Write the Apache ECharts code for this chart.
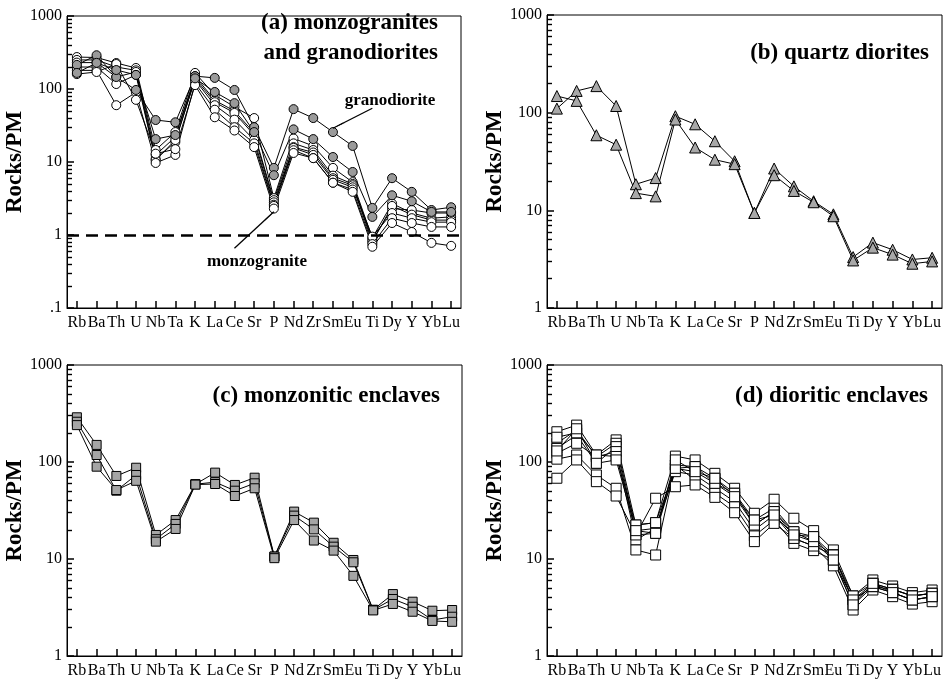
<!DOCTYPE html>
<html><head><meta charset="utf-8">
<script src="https://cdn.jsdelivr.net/npm/echarts@6/dist/echarts.min.js"></script>
<style>html,body{margin:0;padding:0;background:#fff}#c{width:946px;height:679px}</style>
</head><body><div id="c"></div>
<script>
// ---------- data ----------
const elements = ['Rb','Ba','Th','U','Nb','Ta','K','La','Ce','Sr','P','Nd','Zr','Sm','Eu','Ti','Dy','Y','Yb','Lu'];
const yTicksA = [0.1, 1, 10, 100, 1000];
const yTicksBCD = [1, 10, 100, 1000];

// (a) monzogranites (open circles) and granodiorites (grey circles)
const aMonzo1 = [274, 270, 227, 194, 14.6, 25.7, 166, 83, 57, 40, 3.2, 21, 16.6, 8.3, 5.3, 0.91, 2.7, 2.0, 1.7, 1.77];
const aMonzo2 = [250, 250, 200, 180, 12.5, 22, 150, 70, 50, 25, 3.0, 18, 14.6, 6.5, 5.0, 0.85, 2.3, 2.2, 2.0, 2.0];
const aMonzo3 = [230, 230, 146, 171, 11, 18.8, 140, 66, 47, 23.4, 2.8, 16, 13.5, 6.0, 4.8, 0.80, 2.5, 1.9, 1.6, 1.6];
const aMonzo4 = [200, 200, 117, 156, 10.6, 20, 133, 60, 38, 20, 2.6, 15.6, 12.5, 5.7, 4.5, 0.95, 2.0, 1.7, 1.5, 1.5];
const aMonzo5 = [180, 180, 60, 90, 9.7, 12.5, 120, 52, 30, 18, 2.5, 14.5, 11.3, 5.2, 4.2, 0.75, 1.7, 1.46, 1.29, 1.29];
const aMonzo6 = [160, 171, 220, 71, 13, 15, 113, 41, 27, 16, 2.3, 13.3, 11.3, 5.2, 3.9, 0.69, 1.46, 1.1, 0.78, 0.71];
const aGrano1 = [214, 290, 146, 97, 37.6, 35, 150, 142, 97, 30, 8.3, 53, 40, 25.7, 16.6, 2.35, 6.0, 3.9, 2.2, 2.4];
const aGrano2 = [166, 228, 182, 156, 20.6, 23.4, 140, 91, 64, 25.7, 6.6, 28, 20.6, 11.7, 7.3, 1.77, 3.5, 2.9, 2.07, 2.07];

// (b) quartz diorites
const bQd1 = [110, 167, 187, 117, 18.5, 21.4, 92, 76, 51, 31.8, 9.4, 26.8, 17.6, 12.4, 9.1, 3.32, 4.67, 3.95, 3.14, 3.27];
const bQd2 = [148, 132, 58.7, 47, 15, 13.9, 85, 44, 33, 29.7, 9.4, 22.9, 15.8, 12.1, 8.7, 3.07, 4.15, 3.52, 2.84, 3.0];

// (c) monzonitic enclaves
const cEnc1 = [289, 150, 71.8, 87.3, 17.7, 25.2, 59, 77.7, 58, 68.9, 10.6, 30.8, 23.7, 14.7, 9.77, 3.0, 4.35, 3.63, 2.93, 2.98];
const cEnc2 = [260, 118, 50.6, 73.5, 16, 23, 59, 62, 50.6, 60.3, 10.6, 28, 20.2, 13.4, 9.25, 2.98, 3.87, 3.22, 2.35, 2.54];
const cEnc3 = [240, 89.5, 51.4, 64, 15.1, 20.4, 58.5, 59.3, 44.6, 53.6, 10.2, 25.2, 15.5, 12.2, 6.7, 2.95, 3.44, 2.86, 2.3, 2.25];

// (d) dioritic enclaves
const dEnc1 = [205, 240, 118, 169, 22.4, 23.7, 115, 105, 76.4, 53.6, 29.6, 41.3, 26.3, 19.6, 12.4, 4.16, 6.08, 5.27, 4.5, 4.79];
const dEnc2 = [156, 214, 113, 156, 19.6, 20.7, 93, 89.6, 67.9, 47.6, 25.2, 33.4, 19.1, 17, 11, 3.78, 5.61, 4.87, 4.16, 4.43];
const dEnc3 = [138, 190, 97, 144, 17.7, 18.4, 86, 79.5, 60.3, 43.9, 22.4, 30.8, 17.7, 15.1, 9.77, 3.36, 5.19, 4.5, 3.78, 4.09];
const dEnc4 = [123, 156, 113, 128, 15.7, 20.7, 79.5, 73.5, 53.6, 39, 19.9, 28.4, 16.3, 13.6, 8.5, 2.98, 4.79, 4.09, 3.43, 3.63];
const dEnc5 = [107, 118, 73.5, 53.6, 12.4, 11, 93, 65.2, 47.6, 34.6, 17.3, 25.2, 14.5, 12.2, 9.77, 3.78, 5.19, 4.5, 3.78, 4.09];
const dEnc6 = [68, 105, 62.7, 44.6, 17.7, 42.3, 55.6, 58, 43.2, 30, 15.1, 23.3, 16.3, 13.6, 11, 4.16, 5.61, 4.87, 4.16, 4.43];
const dEnc7 = [180, 200, 118, 114, 22.4, 23.7, 86, 89.6, 60.3, 47.6, 22.4, 30.8, 19.1, 15.1, 11, 3.78, 5.19, 4.87, 4.16, 4.43];
const dEnc8 = [130, 220, 97, 105, 19.6, 18.4, 105, 79.5, 67.9, 43.9, 25.2, 28.4, 17.7, 17, 9.77, 3.36, 5.61, 4.5, 3.78, 4.09];

// annotation arrows (data coordinates: element index, Rocks/PM)
const granoArrow = [[14.74, 54.5], [13.31, 29]];
const monzoArrow = [[8.39, 0.657], [9.81, 2.08]];
const refLevel = 1;

// ---------- chart ----------
const SERIF = '"Liberation Serif", "Times New Roman", serif';
const panels = [
  {left: 67, top: 16, width: 394, height: 292, yMin: 0.1, yMax: 1000, yTicks: yTicksA},
  {left: 547, top: 15, width: 395, height: 293, yMin: 1, yMax: 1000, yTicks: yTicksBCD},
  {left: 67, top: 365, width: 395, height: 291, yMin: 1, yMax: 1000, yTicks: yTicksBCD},
  {left: 547, top: 365, width: 395, height: 291, yMin: 1, yMax: 1000, yTicks: yTicksBCD}
];

function minorLog(lo, hi) {
  const out = [];
  for (let d = Math.round(Math.log10(lo)); d < Math.round(Math.log10(hi)); d++)
    for (let k = 2; k <= 9; k++) out.push(d + Math.log10(k));
  return out;
}
function majorLog(lo, hi) {
  const out = [];
  for (let d = Math.round(Math.log10(lo)); d <= Math.round(Math.log10(hi)); d++) out.push(d);
  return out;
}

const gridOpt = [], xAxes = [], yAxes = [];
panels.forEach((g, gi) => {
  gridOpt.push({left: g.left, top: g.top, width: g.width, height: g.height, show: true,
    borderColor: '#000', borderWidth: 1});
  xAxes.push({type: 'category', gridIndex: gi, data: elements, boundaryGap: true,
    axisLine: {show: true, lineStyle: {color: '#000', width: 1}},
    axisTick: {show: true, inside: true, length: 7, alignWithLabel: true, interval: 0, lineStyle: {color: '#000', width: 1.5}},
    axisLabel: {show: true, interval: 0, fontFamily: SERIF, fontSize: 16, color: '#000', margin: 7},
    splitLine: {show: false}});
  yAxes.push({type: 'log', logBase: 10, gridIndex: gi, min: g.yMin, max: g.yMax,
    axisLine: {show: true, lineStyle: {color: '#000', width: 1}},
    axisTick: {show: false},
    axisLabel: {show: true, customValues: g.yTicks, formatter: v => v < 1 ? '.1' : String(Math.round(v)),
      fontFamily: SERIF, fontSize: 16, color: '#000', margin: 5},
    splitLine: {show: false},
    name: 'Rocks/PM', nameLocation: 'middle', nameGap: 34, nameRotate: 90,
    nameTextStyle: {fontFamily: SERIF, fontWeight: 'bold', fontSize: 23, color: '#000'}});
});
panels.forEach((g, gi) => {
  const k = 4 + gi;
  gridOpt.push({left: g.left, top: g.top, width: g.width, height: g.height, show: false});
  xAxes.push({type: 'value', gridIndex: k, show: false, min: 0, max: 1});
  yAxes.push({type: 'value', gridIndex: k, min: Math.log10(g.yMin), max: Math.log10(g.yMax),
    axisLine: {show: false}, axisLabel: {show: false}, splitLine: {show: false},
    axisTick: {show: true, inside: true, length: 5, customValues: minorLog(g.yMin, g.yMax), lineStyle: {color: '#000', width: 1.4}}});
});
panels.forEach((g, gi) => {
  const k = 8 + gi;
  gridOpt.push({left: g.left, top: g.top, width: g.width, height: g.height, show: false});
  xAxes.push({type: 'value', gridIndex: k, show: false, min: 0, max: 1});
  yAxes.push({type: 'value', gridIndex: k, min: Math.log10(g.yMin), max: Math.log10(g.yMax),
    axisLine: {show: false}, axisLabel: {show: false}, splitLine: {show: false},
    axisTick: {show: true, inside: true, length: 7, customValues: majorLog(g.yMin, g.yMax), lineStyle: {color: '#000', width: 1.5}}});
});

function mk(gi, vals, sym, size, fill, extra) {
  return Object.assign({
    type: 'line', xAxisIndex: gi, yAxisIndex: gi,
    data: vals.map((v, i) => [i, v]),
    symbol: sym, symbolSize: size, showSymbol: true,
    lineStyle: {color: '#000', width: 1},
    itemStyle: {color: fill, borderColor: '#000', borderWidth: 1, opacity: 1},
    emphasis: {disabled: true}, animation: false
  }, extra || {});
}

const series = [];
[aMonzo1, aMonzo2, aMonzo3, aMonzo4, aMonzo5, aMonzo6].forEach((s, k) => {
  series.push(mk(0, s, 'circle', 9, '#fff', k === 0 ? {markLine: {silent: true, animation: false, symbol: 'none',
    label: {show: false}, lineStyle: {type: [12, 7], width: 2.6, color: '#000'}, data: [{yAxis: refLevel}]}} : null));
});
[aGrano1, aGrano2].forEach((s, k) => {
  series.push(mk(0, s, 'circle', 9, '#9a9a9a', k === 0 ? {markLine: {silent: true, animation: false,
    symbol: ['none', 'arrow'], symbolSize: [1, 13], label: {show: false},
    lineStyle: {type: 'solid', width: 1.3, color: '#000'},
    data: [[{coord: granoArrow[0]}, {coord: granoArrow[1]}], [{coord: monzoArrow[0]}, {coord: monzoArrow[1]}]]}} : null));
});
[bQd1, bQd2].forEach(s => series.push(mk(1, s, 'triangle', 11, '#a8a8a8')));
[cEnc1, cEnc2, cEnc3].forEach(s => series.push(mk(2, s, 'rect', 9, '#a5a5a5')));
[dEnc1, dEnc2, dEnc3, dEnc4, dEnc5, dEnc6, dEnc7, dEnc8].forEach(s => series.push(mk(3, s, 'rect', 10, '#fff')));

function txt(x, y, text, size, align) {
  return {type: 'text', x: x, y: y, silent: true, z: 10,
    style: {text: text, font: 'bold ' + size + 'px ' + SERIF, fill: '#000',
      align: align || 'right', verticalAlign: 'middle', textAlign: align || 'right', textVerticalAlign: 'middle'}};
}

const chart = echarts.init(document.getElementById('c'), null, {renderer: 'canvas'});
chart.setOption({
  animation: false,
  backgroundColor: '#fff',
  grid: gridOpt, xAxis: xAxes, yAxis: yAxes, series: series,
  graphic: [
    txt(438, 23, '(a) monzogranites', 23),
    txt(438, 53, 'and granodiorites', 23),
    txt(929, 53, '(b) quartz diorites', 23),
    txt(440, 396, '(c) monzonitic enclaves', 23),
    txt(928, 396, '(d) dioritic enclaves', 23),
    txt(390, 101, 'granodiorite', 17, 'center'),
    txt(257, 262, 'monzogranite', 17, 'center')
  ]
});
</script></body></html>
